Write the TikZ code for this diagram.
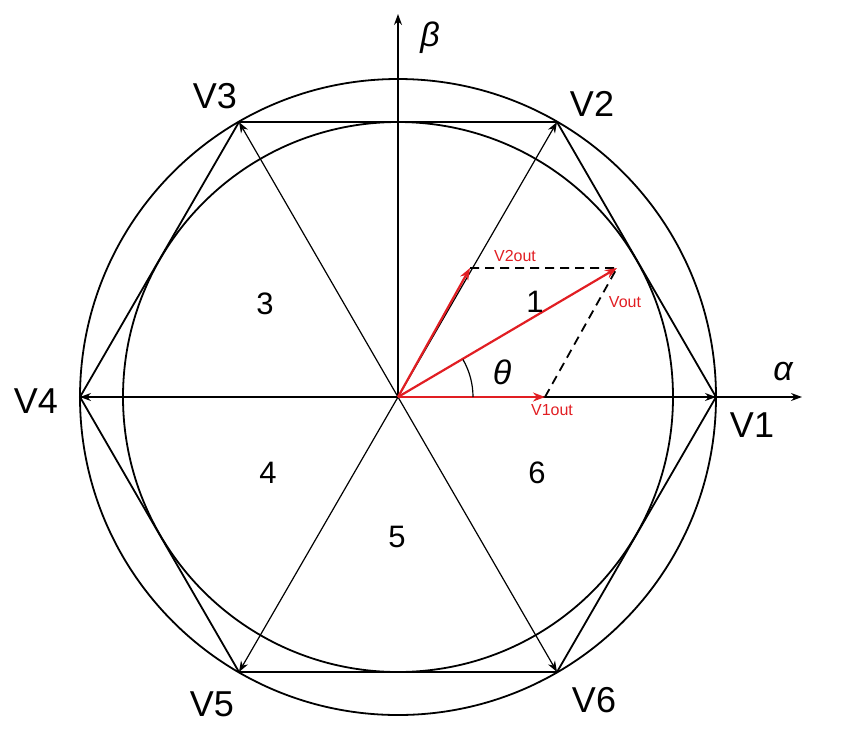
\documentclass[tikz,border=0pt]{standalone}
\usepackage{fontspec}
\setmainfont{Liberation Sans}
\usetikzlibrary{arrows.meta}
\definecolor{vred}{RGB}{225,30,35}
\begin{document}
\begin{tikzpicture}[x=1pt,y=-1pt,
  ln/.style={line width=1.8pt,black},
  thin/.style={line width=1.2pt,black},
  tip/.style={-{Stealth[length=11pt,width=8pt]}},
  redv/.style={line width=2.2pt,vred,-{Stealth[length=12pt,width=9pt]}},
  big/.style={font=\fontsize{36}{36}\selectfont},
  num/.style={font=\fontsize{31}{31}\selectfont},
  gr/.style={font=\fontsize{34}{34}\selectfont\itshape},
  rl/.style={font=\fontsize{16}{16}\selectfont,text=vred}]
\useasboundingbox (0,0) rectangle (841,740);
\coordinate (O) at (398,397);
\coordinate (v1) at (716,397);
\coordinate (v2) at (557,122);
\coordinate (v3) at (239,122);
\coordinate (v4) at (80,397);
\coordinate (v5) at (239,672);
\coordinate (v6) at (557,672);
\draw[ln] (O) circle[radius=318];
\draw[ln] (O) circle[radius=275];
\draw[ln] (v1)--(v2)--(v3)--(v4)--(v5)--(v6)--cycle;
\foreach \v in {v2,v3,v5,v6} \draw[thin,tip] (O)--(\v);
\draw[thin,tip] (O)--(v4);
\draw[thin,tip] (O)--(v1);
\coordinate (ae) at (802,397);
\coordinate (be) at (398,14);
\draw[thin,tip] (v4)--(ae);
\draw[thin,tip] (O)--(be);
\coordinate (p1) at (545,397);
\coordinate (p2) at (470,268);
\coordinate (p) at (617,268);
\draw[line width=1.8pt,dash pattern=on 9pt off 6pt] (p2)--(p) (p1)--(p);
\draw[redv] (O)--(p1);
\draw[redv] (O)--(p2);
\draw[redv] (O)--(p);
\draw[thin] (473,397) arc[start angle=0,end angle=-30,radius=75];
\node[big] (n1) at (752,425) {V1};
\node[big] (n2) at (592,104) {V2};
\node[big] (n3) at (215,96) {V3};
\node[big] (n4) at (36,401) {V4};
\node[big] (n5) at (212,704) {V5};
\node[big] (n6) at (594,700) {V6};
\node[gr] (na) at (783,372) {α};
\node[gr] (nb) at (430,38) {β};
\node[num] (s1) at (535,302) {1};
\node[num] (s3) at (265,304) {3};
\node[num] (s4) at (268,473) {4};
\node[num] (s5) at (397,537) {5};
\node[num] (s6) at (537,473) {6};
\node[gr] (th) at (502,372) {θ};
\node[rl] (l2) at (515,256) {V2out};
\node[rl] (l0) at (625,302) {Vout};
\node[rl] (l1) at (552,410) {V1out};
\end{tikzpicture}
\end{document}
